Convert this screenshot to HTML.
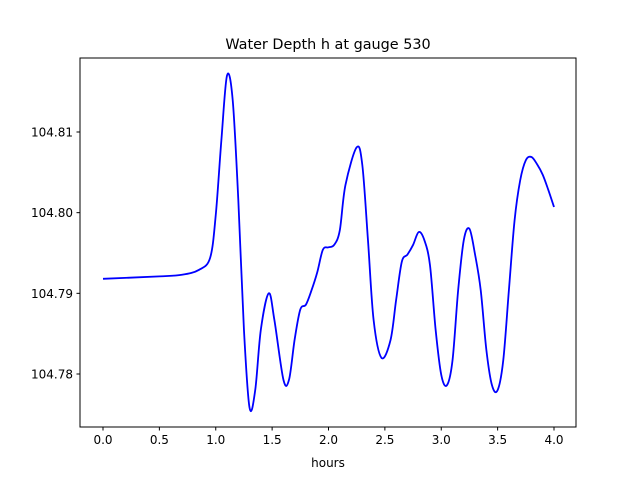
<!DOCTYPE html>
<html><head><meta charset="utf-8"><style>
body{margin:0;background:#fff;font-family:"Liberation Sans","DejaVu Sans",sans-serif;}
svg text{font-family:"DejaVu Sans","Liberation Sans",sans-serif;font-size:12px;fill:#000;}
</style></head><body>
<svg id="chart" width="640" height="480">
<rect x="0" y="0" width="640" height="480" fill="#fff"/>
<text x="328" y="49" text-anchor="middle" style="font-size:14.4px">Water Depth h at gauge 530</text>
<g id="axes"></g>
<path id="line" fill="none" stroke="#0000ff" stroke-width="1.8"/>
<rect x="80" y="58" width="496" height="369" fill="none" stroke="#000" stroke-width="1"/>
<text x="328" y="467" text-anchor="middle">hours</text>
</svg>
<script>
const hours=[0,0.5,0.7,0.85,0.95,1.0,1.05,1.1,1.15,1.2,1.25,1.3,1.35,1.4,1.47,1.52,1.6,1.65,1.7,1.75,1.8,1.85,1.9,1.95,2.0,2.05,2.1,2.15,2.25,2.3,2.35,2.4,2.47,2.55,2.6,2.65,2.7,2.75,2.8,2.85,2.9,2.95,3.0,3.05,3.1,3.15,3.2,3.25,3.3,3.35,3.4,3.45,3.5,3.55,3.6,3.65,3.7,3.75,3.8,3.85,3.9,3.95,4.0];
const depth=[104.7918,104.7921,104.7923,104.7929,104.7944,104.7997,104.809,104.817,104.814,104.8016,104.7855,104.7758,104.778,104.7855,104.790,104.7867,104.7793,104.7793,104.7843,104.788,104.7886,104.7904,104.7926,104.7954,104.7957,104.796,104.7978,104.8034,104.8081,104.8059,104.7966,104.7867,104.782,104.7842,104.7892,104.7939,104.7948,104.796,104.7976,104.7966,104.7935,104.7855,104.7799,104.7786,104.7817,104.7904,104.7966,104.798,104.7948,104.7904,104.783,104.7786,104.778,104.7817,104.7904,104.799,104.804,104.8065,104.8069,104.806,104.8047,104.8028,104.8007];
const xTicks=[0,0.5,1,1.5,2,2.5,3,3.5,4];
const xTickLabels=["0.0","0.5","1.0","1.5","2.0","2.5","3.0","3.5","4.0"];
const yTicks=[104.78,104.79,104.80,104.81];
const yTickLabels=["104.78","104.79","104.80","104.81"];
const X=v=>103+v*112.75;
const Y=v=>374-(v-104.78)*8067;
const NS="http://www.w3.org/2000/svg";
const ax=document.getElementById('axes');
function mk(t,a){const e=document.createElementNS(NS,t);for(const k in a)e.setAttribute(k,a[k]);ax.appendChild(e);return e;}
xTicks.forEach((t,i)=>{
 const l=mk('line',{x1:X(t),x2:X(t),y1:427,y2:430.5,stroke:'#000'});
 
 
 const tx=mk('text',{x:X(t),y:444,'text-anchor':'middle'});tx.textContent=xTickLabels[i];
 
 
});
yTicks.forEach((t,i)=>{
 const l=mk('line',{x1:76.5,x2:80,y1:Y(t),y2:Y(t),stroke:'#000'});
 
 
 const tx=mk('text',{x:73,y:Y(t)+4.5,'text-anchor':'end'});tx.textContent=yTickLabels[i];
 
 
});
const pts=hours.map((h,i)=>[X(h),Y(depth[i])]);
let d='M'+pts[0][0]+','+pts[0][1];
for(let i=0;i<pts.length-1;i++){
 const p0=pts[Math.max(0,i-1)],p1=pts[i],p2=pts[i+1],p3=pts[Math.min(pts.length-1,i+2)];
 const c1=[p1[0]+(p2[0]-p0[0])/6,p1[1]+(p2[1]-p0[1])/6];
 const c2=[p2[0]-(p3[0]-p1[0])/6,p2[1]-(p3[1]-p1[1])/6];
 d+=` C${c1[0]},${c1[1]} ${c2[0]},${c2[1]} ${p2[0]},${p2[1]}`;
}
document.getElementById('line').setAttribute('d',d);
</script>
</body></html>
